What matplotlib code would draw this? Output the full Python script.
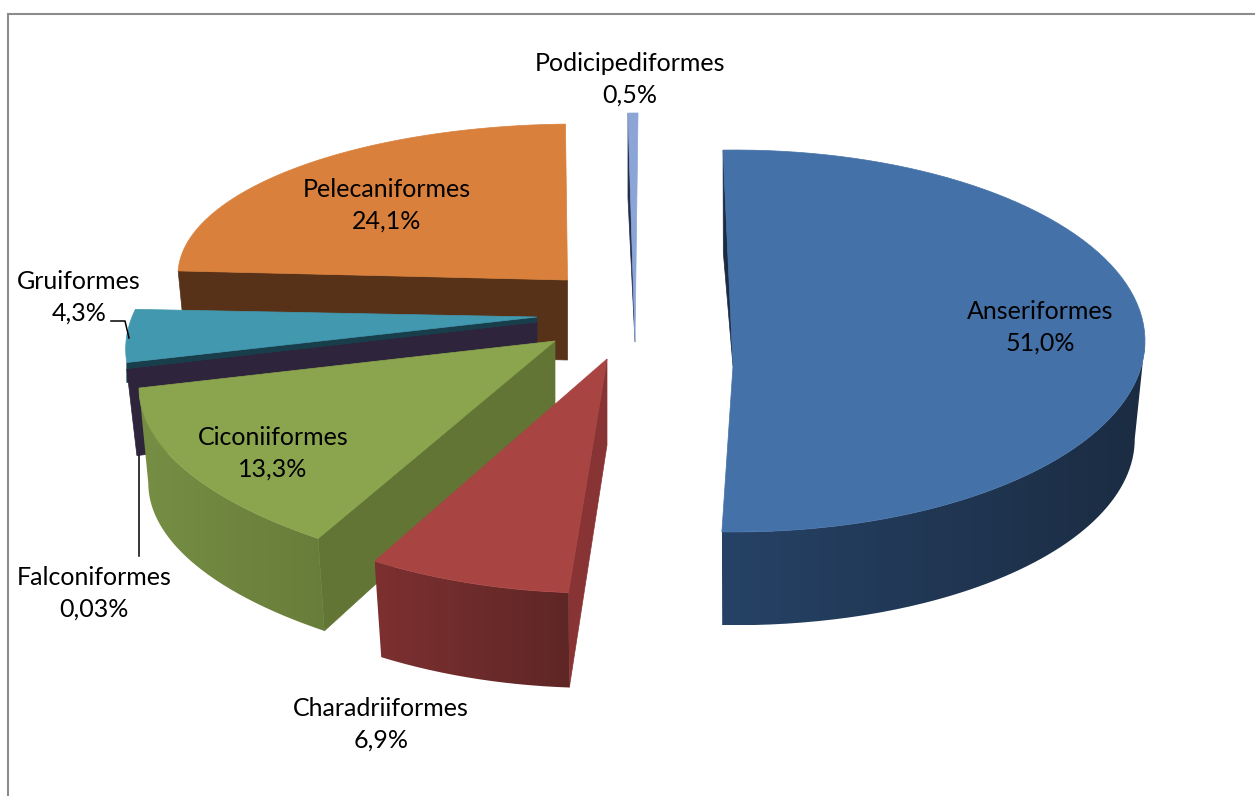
import numpy as np
import matplotlib
matplotlib.use("Agg")
import matplotlib.pyplot as plt
from matplotlib.patches import PathPatch
from matplotlib.path import Path

plt.rcParams['font.family'] = ['Lato', 'DejaVu Sans']

# chart values, clockwise from the top
names = ['Anseriformes', 'Charadriiformes', 'Ciconiiformes', 'Falconiformes',
         'Gruiformes', 'Pelecaniformes', 'Podicipediformes']
values = [51.0, 6.9, 13.3, 0.03, 4.3, 24.1, 0.5]
value_labels = ['51,0%', '6,9%', '13,3%', '0,03%', '4,3%', '24,1%', '0,5%']

# look of each exploded slice, in picture pixels (same order as names)
arc_cx = [734.5, 596, 684, 604.7, 604.7, 578, 636]
arc_cy = [341, 325, 388, 356, 349, 275, 300]
arc_a = [410.5, 469, 545, 479, 479, 400, 320]
arc_b = [191, 268, 203, 198, 198, 151, 187]
angle_shift = [-1.6, 0, 14, 10, 10, 0, 0.36]
apex_x = [733, 607, 555, 537, 537, 567.5, 635]
apex_y = [366, 359, 341, 323, 317, 280, 342]
apex_depth = [0, 86, 80, 86, 20, 80, 0]
depth = [98, 103, 95, 86, 20, 80, 85]
base_scale = [0.975, 0.97, 0.983, 0.979, 1.0, 0.98, 1.0]
wall_from = [90, 0, 0, None, None, None, None]

top_colors = ['#4472a8', '#a84442', '#8aa54e', '#2e243c', '#4198af', '#d9803c', '#8ca5d7']
radial_colors = ['#1b2c42', '#893434', '#627535', '#2e243c', '#193e4b', '#583218', '#232f4b']
wall_right = [(27, 44, 66), (95, 38, 38), (104, 125, 58), None, None, None, None]
wall_left = [(38, 66, 102), (125, 48, 48), (118, 142, 68), None, None, None, None]

draw_order = [5, 4, 3, 2, 1, 6, 0]

label_x = [1040, 381, 273, 94, 79, 387, 630]
label_y = [327, 724, 453, 593, 297, 205, 79]

fig = plt.figure(figsize=(12.55, 7.96), dpi=100)
ax = fig.add_axes([0, 0, 1, 1])
ax.set_xlim(0, 1255)
ax.set_ylim(796, 0)
ax.axis('off')

# outer frame of the chart area
ax.plot([8, 8, 1255], [796, 14, 14], color='#8c8c8c', linewidth=1.5, solid_joinstyle='miter')

total = sum(values)
starts = np.cumsum([0] + values[:-1]) / total * 360
spans = np.array(values) / total * 360


def top_point(i, t):
    return arc_cx[i] + arc_a[i] * np.sin(t), arc_cy[i] - arc_b[i] * np.cos(t)


def low_point(i, t):
    s = base_scale[i]
    return arc_cx[i] + arc_a[i] * s * np.sin(t), arc_cy[i] + depth[i] - arc_b[i] * s * np.cos(t)


for i in draw_order:
    t0 = np.radians(starts[i] + angle_shift[i])
    t1 = t0 + np.radians(spans[i])

    # wall on the cut side of the slice
    x0, y0 = top_point(i, t0)
    x1, y1 = low_point(i, t0)
    ax.fill([apex_x[i], x0, x1, apex_x[i]],
            [apex_y[i], y0, y1, apex_y[i] + apex_depth[i]],
            color=radial_colors[i], linewidth=0.5, zorder=2 + 3 * draw_order.index(i))

    # curved outer wall, shaded from left to right
    if wall_from[i] is not None:
        ts = np.linspace(max(t0, np.radians(wall_from[i])), t1, 120)
        xt, yt = top_point(i, ts)
        xl, yl = low_point(i, ts[::-1])
        xw = np.r_[xt, xl]
        yw = np.r_[yt, yl]
        verts = np.column_stack([np.r_[xw, xw[0]], np.r_[yw, yw[0]]])
        shade = np.linspace(wall_left[i], wall_right[i], 256)[None, :, :] / 255
        im = ax.imshow(shade, extent=(xw.min(), xw.max(), yw.max(), yw.min()), aspect='auto',
                       interpolation='bilinear', zorder=3 + 3 * draw_order.index(i))
        clip = PathPatch(Path(verts), transform=ax.transData, facecolor='none', edgecolor='none')
        ax.add_patch(clip)
        im.set_clip_path(clip)
        ax.set_xlim(0, 1255)
        ax.set_ylim(796, 0)

    # top face
    ts = np.linspace(t0, t1, 90)
    xs, ys = top_point(i, ts)
    ax.fill(np.r_[apex_x[i], xs], np.r_[apex_y[i], ys], color=top_colors[i], linewidth=0.5,
            zorder=4 + 3 * draw_order.index(i))

# leader lines
ax.plot([111, 125, 129], [321, 321, 338], color='black', linewidth=1.1, zorder=40)
ax.plot([139, 139], [456, 556], color='black', linewidth=1.1, zorder=40)

for i in range(len(names)):
    ax.text(label_x[i], label_y[i], names[i] + '\n' + value_labels[i], ha='center', va='center',
            fontsize=18, linespacing=1.45, color='black', zorder=41)

fig.savefig('out.png', dpi=100)
